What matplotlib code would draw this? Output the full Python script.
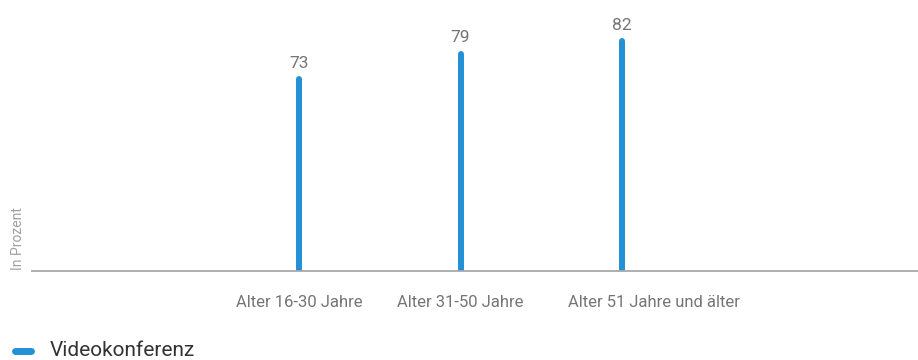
import matplotlib.pyplot as plt
from matplotlib.transforms import ScaledTranslation

categories = ["Alter 16-30 Jahre", "Alter 31-50 Jahre", "Alter 51 Jahre und älter"]
values = [73, 79, 82]
series_name = "Videokonferenz"

plt.rcParams['font.family'] = ['Roboto', 'DejaVu Sans']
blue = "#2391d5"
grey = "#757575"

fig = plt.figure(figsize=(9.18, 3.6), dpi=100)
ax = fig.add_axes([32/918, 1 - 271/360, (918-32)/918, (271-5)/360])

x = list(range(len(categories)))
lc = ax.vlines(x, 20, values, color=blue, linewidth=4.3)
lc.set_capstyle('round')
for xi, v in zip(x, values):
    ax.annotate(str(v), (xi, v), xytext=(0, 8), textcoords="offset points",
                ha="center", va="baseline", fontsize=12.5, color=grey)

ax.set_xlim(-1.66, 3.84)
ax.set_ylim(27.5, 90.5)
for s in ["top", "right", "left"]:
    ax.spines[s].set_visible(False)
ax.spines["bottom"].set_color("#a8a8a8")
ax.spines["bottom"].set_linewidth(1.3)
ax.spines["bottom"].set_zorder(3)
ax.set_yticks([])
ax.set_xticks(x)
ax.set_xticklabels(categories, fontsize=12, color=grey)
ax.tick_params(axis="x", length=0, pad=17)
# last label sits a bit to the right of its bar in the original
lab = ax.get_xticklabels()[-1]
lab.set_transform(lab.get_transform() + ScaledTranslation(32/100, 0, fig.dpi_scale_trans))

fig.text(18/918, 1 - 270/360, "In Prozent", rotation=90, ha="center", va="bottom",
         fontsize=10, color="#a0a0a0")

fig.add_artist(plt.Line2D([15/918, 31/918], [1 - 351/360] * 2, color=blue,
                          linewidth=5, solid_capstyle="round"))
fig.text(50/918, 1 - 350/360, series_name, ha="left", va="center", fontsize=15,
         color="#333333")

fig.savefig("out.png", dpi=100)
